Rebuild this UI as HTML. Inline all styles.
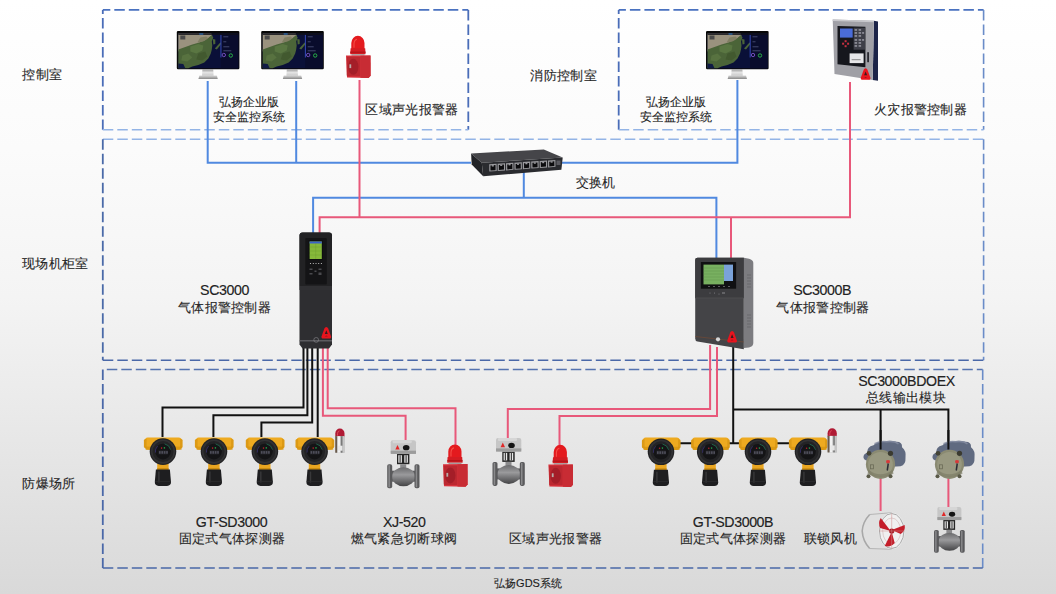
<!DOCTYPE html>
<html><head><meta charset="utf-8">
<style>
html,body{margin:0;padding:0;}
body{width:1056px;height:594px;overflow:hidden;position:relative;
background:linear-gradient(to bottom,#ffffff 0%,#fbfbfb 25%,#f4f4f4 50%,#d9d9d9 100%);
font-family:"Liberation Sans",sans-serif;}
svg{position:absolute;left:0;top:0;}
.t{font-size:13.3px;letter-spacing:0.3px;fill:#262626;stroke:#262626;stroke-width:0.12px;font-family:"Liberation Sans",sans-serif;}
.s{font-size:11.6px;letter-spacing:0;fill:#1a1a1a;}
.m{font-size:14.2px;letter-spacing:-0.4px;stroke:#222;stroke-width:0.15px;fill:#222;}
</style></head><body>
<svg width="1056" height="594" viewBox="0 0 1056 594">
<defs>
 <linearGradient id="gStand" x1="0" y1="0" x2="0" y2="1"><stop offset="0" stop-color="#9a9a9a"/><stop offset="0.5" stop-color="#e4e4e4"/><stop offset="1" stop-color="#c8c8c8"/></linearGradient>
 <linearGradient id="gBase" x1="0" y1="0" x2="0" y2="1"><stop offset="0" stop-color="#d8d8d8"/><stop offset="1" stop-color="#8a8a8a"/></linearGradient>
 <g id="mon">
  <rect x="0" y="0" width="62.6" height="38.3" rx="1.2" fill="#080808"/>
  <g transform="translate(1.5,2.6)">
   <rect width="60" height="34.8" fill="#0a1038"/>
   <path d="M0 0 H33 L34 2 L30 5 L26 8 L21 10 L14 12 L7 15 L0 18 Z" fill="#9a927e"/>
   <path d="M0 16 L7 13.5 L14 11 L21 9 L26.5 7 L30 4.5 L33.5 1.5 L35 4 L33.5 8 L34 12 L33.5 16 L32.5 20 L30 25 L26 29 L20 31.5 L14 33 L10 34.8 H0 Z" fill="#4b6438"/>
   <path d="M12 13 L20 10.5 L25 12 L24 17 L18 20 L12 18 Z" fill="#5a7642"/>
   <path d="M4 22 L10 20 L14 24 L9 28 L3 27 Z" fill="#587240"/>
   <path d="M20 20 L27 18 L29 23 L24 27 L18 26 Z" fill="#42592f"/>
   <path d="M22 4 L28 3 L30 5 L25 8 L19 9 Z" fill="#7a7a5c" opacity="0.8"/>
   <path d="M0 30 L5 30.5 L7 34.8 H0 Z" fill="#101a44"/>
   <path d="M34.5 5.5 L37 6 L37 10.5 L35 11 Z" fill="#4b6438"/>
   <path d="M36.5 15 L42 9 L43.5 9.8 L38.5 16 Z" fill="#4b6438"/>
   <rect x="42.5" y="0" width="17.5" height="34.8" fill="#090c2c"/>
   <rect x="42.2" y="1" width="0.9" height="23" fill="#3a52c8"/>
   <rect x="2" y="2" width="5" height="4" fill="#4a4a4a"/>
   <g fill="#5a6088"><rect x="45" y="3" width="5" height="0.7"/><rect x="45" y="8" width="3" height="0.7"/><rect x="45" y="13" width="6" height="0.7"/><rect x="45" y="17" width="8" height="0.7"/></g>
   <circle cx="45.5" cy="21.5" r="1.7" fill="none" stroke="#7a52c8" stroke-width="0.9"/>
   <circle cx="52.5" cy="22" r="1.7" fill="none" stroke="#28b048" stroke-width="1"/>
   <rect x="0" y="0" width="60" height="1.3" fill="#101018"/>
   <rect x="21" y="0" width="4" height="1" fill="#2a7ad0"/>
  </g>
  <path d="M25.6 38.3 H36.4 L36.8 45 H25.2 Z" fill="url(#gStand)"/>
  <path d="M22.6 44.6 H40 L41 48 H21.6 Z" fill="url(#gBase)"/>
 </g>
 <g id="alarm">
  <path d="M5.3 13.5 V7.2 A6.6 7.2 0 0 1 18.5 7.2 V13.5 Z" fill="#e41a1e"/>
  <path d="M8 12 V8 A3.5 5 0 0 1 11 3.5" fill="none" stroke="#ff7060" stroke-width="1.1" opacity="0.6"/>
  <path d="M4.6 12.5 H19.2 L19.6 18.4 H4.2 Z" fill="#d41c22"/>
  <rect x="4.2" y="15.8" width="15.4" height="1.2" fill="#b0141a"/>
  <rect x="5.5" y="18.3" width="13" height="1.6" fill="#a89c9c"/>
  <path d="M0 19.8 L24.5 19.6 L24.6 40 L22.5 42.3 L1 41.8 Z" fill="#d8323c"/>
  <path d="M14.5 20 L24.5 19.6 L24.6 40 L22.5 42.3 L14.5 42 Z" fill="#c82c34"/>
  <rect x="0.8" y="21" width="13.5" height="19.5" rx="1" fill="#bc2830"/>
  <ellipse cx="7.3" cy="31" rx="5.2" ry="8" fill="#a41e28"/>
  <rect x="3.4" y="28.5" width="1.8" height="3.8" fill="#b8aca8"/>
 </g>
 <g id="det">
  <path d="M1.5 3.5 Q1.5 0.8 4 0.8 H35 Q38 0.8 38 3.5 V10.5 Q38 13.2 35 13.2 H4 Q1.5 13.2 1.5 10.5 Z" fill="#eeaa20"/>
  <path d="M0.3 4 Q0.3 2.5 1.8 2.5 H3 V11.5 H1.8 Q0.3 11.5 0.3 10 Z" fill="#dc9a16"/>
  <path d="M36.5 2.5 H37.5 Q39 2.5 39 4 V10 Q39 11.5 37.5 11.5 H36.5 Z" fill="#dc9a16"/>
  <rect x="2" y="10" width="36" height="3.2" fill="#d4930f" opacity="0.7"/>
  <rect x="13.6" y="27" width="11.4" height="7" fill="#eaa620"/>
  <rect x="13.6" y="31.5" width="11.4" height="2.5" fill="#c88a10"/>
  <path d="M12.3 33 H26.3 L27.4 45.5 Q27.4 49.3 23.5 49.3 H15 Q11.2 49.3 11.2 45.5 Z" fill="#1e1e20"/>
  <path d="M15.3 35 V46" stroke="#38383a" stroke-width="1.4"/>
  <path d="M11.6 44.8 H27" stroke="#2c2c2e" stroke-width="0.9"/>
  <circle cx="19.4" cy="15" r="13.3" fill="#232325"/>
  <circle cx="19.4" cy="15" r="11.3" fill="none" stroke="#323234" stroke-width="1.6"/>
  <circle cx="19.4" cy="15" r="7.8" fill="#141416"/>
  <path d="M21 7.3 A7.8 7.8 0 0 1 27 13" fill="none" stroke="#1f7052" stroke-width="0.8"/>
  <path d="M11.8 16 A7.8 7.8 0 0 1 14 9.5" fill="none" stroke="#3a3272" stroke-width="0.8"/>
  <rect x="14.8" y="13.8" width="9.4" height="4" fill="#242428"/>
  <g fill="#4e4e5a"><rect x="15.4" y="14.5" width="1.6" height="2.6"/><rect x="17.8" y="14.5" width="1.6" height="2.6"/><rect x="20.2" y="14.5" width="1.6" height="2.6"/><rect x="22.6" y="14.5" width="1.6" height="2.6"/></g>
  <circle cx="18" cy="11.5" r="0.8" fill="#b82028"/>
  <circle cx="20.8" cy="11.3" r="0.8" fill="#20a048"/>
 </g>
 <g id="beacon">
  <path d="M0.3 8 V4.8 A4.5 4.8 0 0 1 9.5 4.8 V8 Z" fill="#b01a34"/>
  <path d="M2.5 7 V5 A2 3 0 0 1 4.5 2.2" fill="none" stroke="#d84a5a" stroke-width="1"/>
  <rect x="0.3" y="7.5" width="9.2" height="16.5" fill="#b0b0b0"/>
  <rect x="0.3" y="7.5" width="1.8" height="16.5" fill="#6a5a4a"/>
  <rect x="2.6" y="7.5" width="2.6" height="16.5" fill="#f2f2f2"/>
  <rect x="6" y="7.5" width="1.5" height="16.5" fill="#7a7a7a"/>
  <rect x="7.8" y="7.5" width="1.7" height="16.5" fill="#c8c8c8"/>
  <rect x="3" y="17" width="4.5" height="5" fill="#e8e8e8"/>
 </g>
 <linearGradient id="gValve" x1="0" y1="0" x2="0" y2="1"><stop offset="0" stop-color="#6a6a6c"/><stop offset="0.4" stop-color="#9a9a9c"/><stop offset="1" stop-color="#444446"/></linearGradient>
 <g id="valve">
  <rect x="9.3" y="14" width="12.4" height="10.5" fill="#262626"/>
  <rect x="10.6" y="15.5" width="3.6" height="7.5" fill="#e8e8e8"/>
  <rect x="16.6" y="15.5" width="3.6" height="7.5" fill="#e8e8e8"/>
  <rect x="11.8" y="15.5" width="1.2" height="7.5" fill="#444"/>
  <rect x="17.8" y="15.5" width="1.2" height="7.5" fill="#444"/>
  <path d="M3 2.5 Q3 0.5 5 0.5 H26 Q28.3 0.5 28.3 2.5 V12.5 Q28.3 14.2 26.5 14.2 H5 Q3 14.2 3 12.5 Z" fill="#c6c6c6"/>
  <rect x="5" y="0.5" width="19" height="3" rx="1" fill="#d6d6d6"/>
  <rect x="3" y="11" width="25.3" height="3.2" fill="#9c9c9c"/>
  <path d="M9.8 5.2 L12 9.8 H7.6 Z" fill="#e02828"/>
  <ellipse cx="18.5" cy="8" rx="3.3" ry="2.6" fill="#141414"/>
  <rect x="12.5" y="24.5" width="6" height="6" fill="#8a8a8c"/>
  <rect x="2" y="31" width="27" height="11" fill="#5e5e60"/>
  <ellipse cx="15.8" cy="37" rx="11.5" ry="9.5" fill="url(#gValve)"/>
  <rect x="-0.5" y="24.5" width="5" height="24" rx="1.8" fill="#5a5a5c"/>
  <rect x="0.7" y="25.5" width="1.5" height="22" fill="#8a8a8c"/>
  <rect x="26.8" y="24.5" width="5" height="24" rx="1.8" fill="#5a5a5c"/>
  <rect x="28" y="25.5" width="1.5" height="22" fill="#8a8a8c"/>
 </g>
 <g id="module">
  <path d="M7 14 Q6 8 13 6.5 Q17 2 24 2.5 Q30 1 36 3 Q42 3 41.5 8.5 Q46 12 45 19 Q45.5 26 40 27.5 L32 28 Q24 20 14 22 Q4 23 3 19 Q2.5 15 7 14 Z" fill="#606a80"/>
  <path d="M14 5 Q20 2 26 3 Q34 2 38 5" fill="none" stroke="#8890a4" stroke-width="1.6" opacity="0.8"/>
  <circle cx="20" cy="25.5" r="14.6" fill="#8a8a72"/>
  <circle cx="20" cy="25.5" r="12.3" fill="#989880"/>
  <path d="M8 31 Q20 40 32 31 L33 35 Q20 42 7 35 Z" fill="#7e7e66" opacity="0.7"/>
  <circle cx="8.5" cy="14.5" r="2.4" fill="#444436"/>
  <circle cx="30" cy="14.5" r="2.6" fill="#3a3a30"/>
  <circle cx="8" cy="37.5" r="2" fill="#5a5a48"/>
  <circle cx="30" cy="37.5" r="2" fill="#5a5a48"/>
  <rect x="10" y="26" width="3" height="4" fill="none" stroke="#6a6a56" stroke-width="0.8"/>
  <path d="M25.5 22 Q27.5 20.5 29.5 22 L29 24.5 H26 Z" fill="#d83838"/>
  <path d="M27 24.5 L28.5 25 L27.5 32 L26 31.5 Z" fill="#2a2a34"/>
 </g>
 <g id="fan">
  <path d="M7 2.5 Q0 10 -0.5 19 Q0 29 7 36.5 L29 37.3 L29 0.7 Z" fill="#e0e0e0"/>
  <path d="M7 2.5 Q0 10 -0.5 19 Q0 29 7 36.5" fill="none" stroke="#a8a8a8" stroke-width="1.6"/>
  <path d="M7 2.5 L29 0.7 M7 36.5 L29 37.3" stroke="#b0b0b0" stroke-width="0.9"/>
  <ellipse cx="29" cy="19" rx="13" ry="18.3" fill="#f0f0f0"/>
  <ellipse cx="29" cy="19" rx="12.2" ry="17.5" fill="none" stroke="#a8a8a8" stroke-width="1"/>
  <ellipse cx="29" cy="19" rx="9" ry="13" fill="none" stroke="#c8a8a8" stroke-width="0.5"/>
  <g fill="#c41e2a">
   <path d="M28 19 L18 6 Q15 11 17.5 16 Z"/>
   <path d="M29 18 L42 13 Q43 19 38 22 Z"/>
   <path d="M29 20 L22 34 Q28 35.5 32 31 Z"/>
  </g>
  <circle cx="29" cy="19" r="2.6" fill="#a81822"/>
  <path d="M16.5 19 H41.5 M29 1.5 V36.5" stroke="#d08a8a" stroke-width="0.5"/>
 </g>
 <g id="logoA">
  <path d="M4.5 0 Q5.8 0 6.4 1.6 L9.2 9.2 Q9.8 11.5 7.4 11.5 H1.6 Q-0.8 11.5 -0.2 9.2 L2.6 1.6 Q3.2 0 4.5 0 Z" fill="#e8141e"/>
  <path d="M4.5 3.2 L6 7 H3 Z" fill="#3a1a1c"/>
  <path d="M3 9.3 Q4.5 8.2 6 9.3 Z" fill="#3a1a1c"/>
 </g>
</defs>
<!-- dashed boxes -->
<g fill="none" stroke-dasharray="10.5 4">
 <!-- box1 -->
 <path d="M102.8 9.9 H468.3" stroke="#4a72c0" stroke-width="1.8" stroke-dashoffset="3"/>
 <path d="M102.8 9.9 V129.8" stroke="#4a6db8" stroke-width="1.8" stroke-dashoffset="6.3"/>
 <path d="M468.3 9.9 V129.8" stroke="#4a6db8" stroke-width="1.8"/>
 <path d="M102.8 129.8 H468.3" stroke="#93b4e6" stroke-width="1.4"/>
 <!-- box3 -->
 <path d="M618.7 9.9 H983.6" stroke="#4a72c0" stroke-width="1.8" stroke-dashoffset="3.3"/>
 <path d="M618.7 9.9 V129.8" stroke="#4a6db8" stroke-width="1.8" stroke-dashoffset="6.3"/>
 <path d="M983.6 9.9 V129.8" stroke="#6a8cc8" stroke-width="1.6"/>
 <path d="M618.7 129.8 H983.6" stroke="#93b4e6" stroke-width="1.4"/>
 <!-- box2 -->
 <path d="M102.8 139.2 H983.6" stroke="#93b4e6" stroke-width="1.4"/>
 <path d="M102.8 139.2 V360.2" stroke="#4a6aa8" stroke-width="1.8"/>
 <path d="M983.6 139.2 V360.2" stroke="#6a8cc8" stroke-width="1.6"/>
 <path d="M102.8 360.2 H983.6" stroke="#4a68a8" stroke-width="1.6"/>
 <!-- box4 -->
 <path d="M102.8 369.5 H982.7" stroke="#5573b0" stroke-width="1.4" stroke-dashoffset="-4"/>
 <path d="M102.8 369.5 V568" stroke="#4a68a8" stroke-width="1.8"/>
 <path d="M982.7 369.5 V568" stroke="#6a8cc8" stroke-width="1.6"/>
 <path d="M102.8 568 H982.7" stroke="#4a68a8" stroke-width="1.6"/>
</g>
<!-- blue lines -->
<g fill="none" stroke="#5089e0" stroke-width="2">
 <path d="M207.7 81 V162.8 H471"/>
 <path d="M296.2 81 V162.8"/>
 <path d="M560 162.8 H737.4 V80"/>
 <path d="M523.8 172 V197.7"/>
 <path d="M313.1 233 V197.7 H716.4 V258"/>
</g>
<!-- red lines -->
<g fill="none" stroke="#e8587a" stroke-width="2">
 <path d="M359.5 80 V217.2"/>
 <path d="M319.6 233 V217.2 H850 V82"/>
 <path d="M731 258 V217.2"/>
 <path d="M322.9 346 V415.7 H405.6 V440"/>
 <path d="M327.7 346 V408.3 H455.5 V445"/>
 <path d="M710.1 345 V409 H507.8 V438"/>
 <path d="M717 347 V415.9 H559.5 V445"/>
 <path d="M880.6 478 V511"/>
 <path d="M948.4 478 V507"/>
</g>
<!-- black wires -->
<g fill="none" stroke="#111" stroke-width="2">
 <path d="M303.5 346 V407.6 H162.5 V437"/>
 <path d="M307.4 346 V415.3 H213.4 V437"/>
 <path d="M312.2 346 V422.4 H261.4 V437"/>
 <path d="M317.7 346 V437"/>
 <path d="M733.2 345 V443.2"/>
 <path d="M679 443.2 H789"/>
 <path d="M733.2 409.5 H948.4 V448"/>
 <path d="M880.6 409.5 V448"/>
</g>

<!-- devices -->
<use href="#mon" x="176.8" y="30.9"/>
<use href="#mon" x="261.2" y="30.9"/>
<use href="#mon" x="706" y="30.9"/>
<use href="#alarm" x="346" y="35.8"/>
<use href="#alarm" x="443" y="444.4"/>
<use href="#alarm" x="548.4" y="444.8"/>
<use href="#det" x="143.6" y="436.6"/>
<use href="#det" x="194.6" y="436.6"/>
<use href="#det" x="245.5" y="436.6"/>
<use href="#det" x="295.2" y="436.6"/>
<use href="#det" x="641.6" y="436.8"/>
<use href="#det" x="690.8" y="436.8"/>
<use href="#det" x="738.6" y="436.8"/>
<use href="#det" x="788.6" y="436.8"/>
<use href="#beacon" x="335" y="428.7"/>
<use href="#beacon" x="827.3" y="428.4"/>
<use href="#valve" x="387.7" y="439.7"/>
<use href="#valve" x="493" y="437.4"/>
<use href="#module" x="860.5" y="438.8"/>
<use href="#module" x="929.5" y="438.8"/>
<use href="#fan" x="862.7" y="512"/>
<path d="M880.6 430 V449.5 M948.4 430 V449.5" stroke="#111" stroke-width="2" fill="none"/>
<g transform="translate(934.5,506.6) scale(0.95)"><use href="#valve"/></g>
<!-- fire alarm panel -->
<g transform="translate(831.6,18.2)">
 <path d="M42.3 2.5 L46.4 3.3 V62.5 L41.1 61.8 Z" fill="#1c2448"/>
 <path d="M1.1 1.3 L42.3 2.5 L41.1 61.8 L2.9 55.8 Z" fill="#a0a0a6"/>
 <path d="M1.1 1.3 L42.3 2.5 L42.2 4 L1.2 2.8 Z" fill="#c8c8cc"/>
 <path d="M5.9 7.9 L33.8 8.5 V49.1 L5.9 46 Z" fill="#16171d"/>
 <rect x="22" y="9.5" width="11.5" height="22" fill="#3e3f48"/>
 <rect x="8.4" y="10.3" width="12.7" height="9.1" fill="#4a6cd8"/>
 <g fill="#9a9aa4"><rect x="23" y="11" width="2.5" height="1.5"/><rect x="27" y="11" width="2.5" height="1.5"/><rect x="23" y="14" width="2.5" height="1.5"/><rect x="27" y="14" width="2.5" height="1.5"/><rect x="23" y="17" width="2.5" height="1.5"/><rect x="27" y="17" width="2.5" height="1.5"/><rect x="23" y="21" width="2.5" height="1.5"/><rect x="27" y="21" width="2.5" height="1.5"/><rect x="23" y="24" width="2.5" height="1.5"/><rect x="27" y="24" width="2.5" height="1.5"/><rect x="23" y="27" width="2.5" height="1.5"/><rect x="27" y="27" width="2.5" height="1.5"/><rect x="30.5" y="14" width="2" height="1.5"/><rect x="30.5" y="21" width="2" height="1.5"/></g>
 <g fill="#c83040"><rect x="13" y="22" width="2" height="2"/><rect x="10.5" y="24.5" width="2" height="2"/><rect x="15.5" y="24.5" width="2" height="2"/><rect x="13" y="27" width="2" height="2"/></g>
 <rect x="18" y="35.2" width="14" height="9.7" fill="#e6e6e8"/>
 <rect x="20" y="41" width="9" height="1" fill="#888"/>
 <rect x="35.6" y="34" width="1.8" height="10" fill="#2a2a30"/>
 <use href="#logoA" x="29.5" y="50"/>
</g>
<!-- switch -->
<g>
 <path d="M471.1 153.4 L543.8 149.6 L562.7 157.6 L481.8 162.8 Z" fill="#454549"/>
 <path d="M471.1 153.4 L481.8 162.8 L483.2 176.3 L471.7 164.5 Z" fill="#222327"/>
 <path d="M481.8 162.8 L562.7 157.6 L561.4 169.8 L483.2 176.3 Z" fill="#2a2b2f"/>
 <g fill="#9a9a9e">
  <path d="M489.2 164.3 L496.6 163.8 L496.7 171 L489.3 171.6 Z"/>
  <path d="M497.6 163.8 L505 163.3 L505.1 170.4 L497.7 171 Z"/>
  <path d="M506 163.2 L513.4 162.7 L513.5 169.8 L506.1 170.4 Z"/>
  <path d="M514.4 162.7 L521.8 162.2 L521.9 169.2 L514.5 169.8 Z"/>
  <path d="M522.8 162.1 L530.2 161.6 L530.3 168.6 L522.9 169.2 Z"/>
  <path d="M531.2 161.6 L538.6 161.1 L538.7 168 L531.3 168.6 Z"/>
  <path d="M539.6 161 L547 160.5 L547.1 167.4 L539.7 168 Z"/>
  <path d="M548 160.5 L555.4 160 L555.5 166.8 L548.1 167.4 Z"/>
 </g>
 <g fill="#0c0c0e">
  <path d="M490.4 165.5 L495.5 165.1 L495.6 170.2 L490.5 170.6 Z"/>
  <path d="M498.8 165 L503.9 164.6 L504 169.6 L498.9 170 Z"/>
  <path d="M507.2 164.4 L512.3 164 L512.4 169 L507.3 169.4 Z"/>
  <path d="M515.6 163.9 L520.7 163.5 L520.8 168.4 L515.7 168.8 Z"/>
  <path d="M524 163.3 L529.1 162.9 L529.2 167.8 L524.1 168.2 Z"/>
  <path d="M532.4 162.8 L537.5 162.4 L537.6 167.2 L532.5 167.6 Z"/>
  <path d="M540.8 162.2 L545.9 161.8 L546 166.6 L540.9 167 Z"/>
  <path d="M549.2 161.7 L554.3 161.3 L554.4 166 L549.3 166.4 Z"/>
 </g>
 <g fill="#9a9a9e"><rect x="491.8" y="165.10" width="2" height="1.4"/><rect x="500.2" y="164.55" width="2" height="1.4"/><rect x="508.6" y="164.00" width="2" height="1.4"/><rect x="517.0" y="163.45" width="2" height="1.4"/><rect x="525.4" y="162.90" width="2" height="1.4"/><rect x="533.8" y="162.35" width="2" height="1.4"/><rect x="542.2" y="161.80" width="2" height="1.4"/><rect x="550.6" y="161.25" width="2" height="1.4"/></g>
 <rect x="556.5" y="160.5" width="4" height="4.5" fill="#5a5a60"/>
</g>
<!-- SC3000 -->
<g>
 <path d="M299.5 235.5 Q299.5 232.5 302.5 232.5 H329 Q332 232.5 332 235.5 V344.5 L329 348.5 H302.5 L299.5 344.5 Z" fill="#2e2e31"/>
 <path d="M299.5 235.5 Q299.5 232.5 302.5 232.5 H329 Q332 232.5 332 235.5 V286 H299.5 Z" fill="#222224"/>
 <rect x="305.3" y="238" width="21.5" height="46.5" rx="1" fill="#141416"/>
 <rect x="308.6" y="240.3" width="14.2" height="19.7" fill="#0e0e10"/>
 <rect x="309.6" y="241.5" width="12.2" height="17.5" fill="#86b83a"/>
 <rect x="309.6" y="241.5" width="12.2" height="2" fill="#3a62c8"/>
 <g stroke="#6a9a30" stroke-width="0.4"><path d="M309.6 247 H321.8 M309.6 251 H321.8 M309.6 255 H321.8 M315.7 243.5 V259"/></g>
 <g fill="#cfcfcf"><circle cx="310.5" cy="263.5" r="0.6"/><circle cx="313.3" cy="263.5" r="0.6"/><circle cx="316" cy="263.5" r="0.6"/><circle cx="318.7" cy="263.5" r="0.6"/><circle cx="321.4" cy="263.5" r="0.6"/></g>
 <g fill="#4a4a4e"><rect x="309.5" y="268.5" width="3" height="1.5"/><rect x="318.5" y="268.5" width="3" height="1.5"/><rect x="309.5" y="273" width="3" height="1.5"/><rect x="318.5" y="272.5" width="3" height="2.5"/><rect x="314.5" y="270.5" width="2" height="1.5"/></g>
 <path d="M299.5 286 H332 V290 H299.5 Z" fill="#303033"/>
 <rect x="299.5" y="340.2" width="32.5" height="1.2" fill="#66666c"/>
 <circle cx="316.2" cy="339.9" r="2.4" fill="none" stroke="#8a8a8e" stroke-width="0.6"/>
 <use href="#logoA" x="321.8" y="327"/>
</g>
<!-- SC3000B -->
<g>
 <path d="M743.8 257.7 L749 258.8 Q753.3 260 753.3 263 V343 Q753.3 346.5 749 347.5 L743.8 348 Z" fill="#7c7c80"/>
 <g stroke="#5a5a5e" stroke-width="0.6"><path d="M747 275 H751 M747 278 H751 M747 281 H751 M747 284 H751 M747 287 H751 M747 315 H751 M747 318 H751 M747 321 H751 M747 324 H751 M747 327 H751"/></g>
 <path d="M697.5 257.7 H743.8 V349.3 L697.5 341.5 Q695.2 341 695.2 338.5 V260 Q695.2 257.7 697.5 257.7 Z" fill="#444447"/>
 <path d="M697.5 257.7 H743.8 V298 H695.2 V260 Q695.2 257.7 697.5 257.7 Z" fill="#3c3c3f"/>
 <rect x="695.2" y="297.6" width="48.6" height="0.8" fill="#505054"/>
 <rect x="700.9" y="262" width="35.2" height="26.7" fill="#101012"/>
 <rect x="703.5" y="264.6" width="20.5" height="19.8" fill="#78b060"/>
 <g stroke="#5a9048" stroke-width="0.4"><path d="M703.5 268 H724 M703.5 271 H724 M703.5 274 H724 M703.5 277 H724 M703.5 280 H724"/></g>
 <rect x="724" y="264.6" width="9" height="16.4" fill="#7aa2d8"/>
 <g fill="#bbb"><circle cx="709" cy="286.5" r="0.6"/><circle cx="714" cy="286.5" r="0.6"/><circle cx="719" cy="286.5" r="0.6"/><circle cx="724" cy="286.5" r="0.6"/><circle cx="729" cy="286.5" r="0.6"/></g>
 <g fill="#8a8a8e"><circle cx="710" cy="293" r="0.5"/><circle cx="714.5" cy="293" r="0.5"/><circle cx="719" cy="294" r="0.5"/><rect x="722" y="292.5" width="3" height="1"/></g>
 <path d="M695.2 336.5 L743.8 342" stroke="#7a4a30" stroke-width="0.6"/>
 <circle cx="718" cy="339.3" r="2.1" fill="#d8d8d8"/>
 <use href="#logoA" x="727.6" y="331"/>
</g>
<!-- labels -->
<g class="t">
 <text x="22.4" y="79">控制室</text>
 <text x="22" y="268">现场机柜室</text>
 <text x="22.4" y="488">防爆场所</text>
 <text x="412" y="113.5" text-anchor="middle">区域声光报警器</text>
 <text x="563.7" y="80" text-anchor="middle">消防控制室</text>
 <text x="920.5" y="113.5" text-anchor="middle">火灾报警控制器</text>
 <text x="595.7" y="186.8" text-anchor="middle">交换机</text>
 <text x="224.5" y="311.8" text-anchor="middle">气体报警控制器</text>
 <text x="822.9" y="311.7" text-anchor="middle">气体报警控制器</text>
 <text x="906" y="402" text-anchor="middle">总线输出模块</text>
 <text x="232" y="542.5" text-anchor="middle">固定式气体探测器</text>
 <text x="404" y="542.5" text-anchor="middle">燃气紧急切断球阀</text>
 <text x="555.7" y="543.2" text-anchor="middle">区域声光报警器</text>
 <text x="733" y="542.5" text-anchor="middle">固定式气体探测器</text>
 <text x="830.3" y="542.6" text-anchor="middle">联锁风机</text>
</g>
<g class="t m">
 <text x="224.5" y="295.3" text-anchor="middle">SC3000</text>
 <text x="822.1" y="294.6" text-anchor="middle">SC3000B</text>
 <text x="906.5" y="386.3" text-anchor="middle">SC3000BDOEX</text>
 <text x="231.5" y="526.8" text-anchor="middle">GT-SD3000</text>
 <text x="404.3" y="526.8" text-anchor="middle">XJ-520</text>
 <text x="733" y="527.4" text-anchor="middle">GT-SD3000B</text>
</g>
<g class="t s">
 <text x="248.6" y="106" text-anchor="middle">弘扬企业版</text>
 <text x="249" y="120.8" text-anchor="middle">安全监控系统</text>
 <text x="675.7" y="106.3" text-anchor="middle">弘扬企业版</text>
 <text x="675.7" y="120.6" text-anchor="middle">安全监控系统</text>
 <text x="528" y="586.5" text-anchor="middle" style="font-size:11px">弘扬GDS系统</text>
</g>
</svg>
</body></html>
